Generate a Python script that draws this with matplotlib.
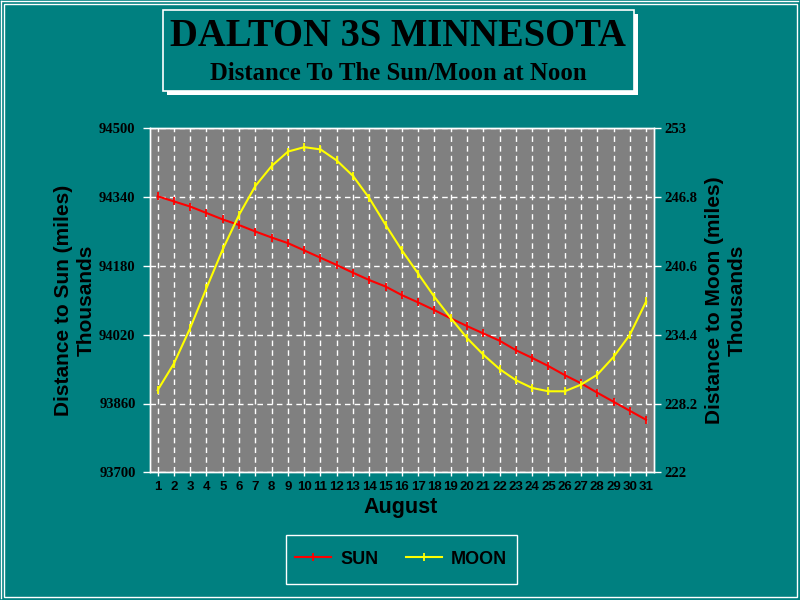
import numpy as np
import matplotlib
matplotlib.use("Agg")
import matplotlib.pyplot as plt
from matplotlib.patches import Rectangle
from matplotlib.lines import Line2D

# data
days = list(range(1, 32))
sun = [94342, 94330, 94318, 94303, 94288, 94275, 94260, 94246, 94233, 94216,
       94199, 94182, 94164, 94147, 94132, 94112, 94095, 94077, 94058, 94040,
       94023, 94006, 93984, 93966, 93947, 93926, 93907, 93885, 93864, 93843, 93822]
moon = [229.4, 231.8, 235.0, 238.6, 242.1, 245.2, 247.8, 249.6, 250.9, 251.3,
        251.1, 250.1, 248.7, 246.7, 244.3, 242.0, 239.9, 237.8, 235.9, 234.1,
        232.6, 231.3, 230.3, 229.6, 229.3, 229.3, 229.9, 230.8, 232.4, 234.4, 237.4]
sun_ticks = [93700, 93860, 94020, 94180, 94340, 94500]
moon_ticks = [222, 228.2, 234.4, 240.6, 246.8, 253]
moon_labels = ["222", "228.2", "234.4", "240.6", "246.8", "253"]

TEAL = "#008080"
GRAY = "#808080"
W, H = 800, 600

fig = plt.figure(figsize=(8, 6), dpi=100, facecolor=TEAL)

def fx(px):
    return px / W

def fy(py):
    return 1 - py / H

# outer border
fig.add_artist(Rectangle((fx(3.5), fy(596.5)), fx(797 - 3.5), (596.5 - 3.5) / H,
                         transform=fig.transFigure, fill=False, ec="white", lw=1))
fig.add_artist(Line2D([fx(1), fx(1)], [fy(1), fy(598)], transform=fig.transFigure, color="white", lw=1))
fig.add_artist(Line2D([fx(1), fx(798)], [fy(1), fy(1)], transform=fig.transFigure, color="white", lw=1))

# title box with white shadow
bx0, bx1, by0, by1 = 162.5, 634, 10.5, 91
fig.add_artist(Rectangle((fx(bx0 + 4), fy(by1 + 3.5)), fx(bx1 - bx0), (by1 - by0) / H,
                         transform=fig.transFigure, fc="white", ec="white", lw=0, zorder=1))
fig.add_artist(Rectangle((fx(bx0), fy(by1)), fx(bx1 - bx0), (by1 - by0) / H,
                         transform=fig.transFigure, fc=TEAL, ec="white", lw=1.2, zorder=2))
fig.text(fx(398), fy(36), "DALTON 3S MINNESOTA", family="Liberation Serif", weight="bold",
         fontsize=27.8, ha="center", va="center", zorder=3)
fig.text(fx(398), fy(73), "Distance To The Sun/Moon at Noon", family="Liberation Serif",
         weight="bold", fontsize=17.8, ha="center", va="center", zorder=3)

# axes
ax = fig.add_axes([fx(149.5), fy(472.3), (654.3 - 149.5) / W, (472.3 - 128.3) / H])
ax.set_facecolor(GRAY)
ax.plot(days, sun, color="red", lw=1.5, marker="|", ms=6, mew=1.3)
ax.set_xlim(0.5, 31.5)
ax.set_ylim(93700, 94500)
ax.set_yticks(sun_ticks)
ax.set_yticklabels([str(v) for v in sun_ticks], family="Liberation Serif", weight="bold", fontsize=10.5)
ax.set_xticks(days)
ax.set_xticklabels([str(d) for d in days], family="Liberation Sans", weight="bold", fontsize=9.5)
ax.grid(True, color="white", ls=(0, (4, 3)), lw=1)
ax.set_axisbelow(True)
ax.tick_params(axis="y", colors="white", length=5, width=1, pad=5, labelcolor="black")
ax.tick_params(axis="x", colors="white", length=3, width=1, pad=3, labelcolor="black")
for s in ax.spines.values():
    s.set_color("white")
    s.set_linewidth(1)

ax2 = ax.twinx()
ax2.plot(days, moon, color="yellow", lw=1.5, marker="|", ms=6, mew=1.3)
ax2.set_ylim(222, 253)
ax2.set_yticks(moon_ticks)
ax2.set_yticklabels(moon_labels, family="Liberation Serif", weight="bold", fontsize=10.5)
ax2.tick_params(axis="y", colors="white", length=5, width=1, pad=2, labelcolor="black")
for s in ax2.spines.values():
    s.set_color("white")
    s.set_linewidth(1)

# axis titles
fig.text(fx(401), fy(507), "August", family="Liberation Sans", weight="bold",
         fontsize=15.5, ha="center", va="center")
fig.text(fx(74.5), fy(300), "Distance to Sun (miles)\nThousands", family="Liberation Sans",
         weight="bold", fontsize=15, rotation=90, ha="center", va="center",
         multialignment="center", linespacing=1.25)
fig.text(fx(725.5), fy(300), "Distance to Moon (miles)\nThousands", family="Liberation Sans",
         weight="bold", fontsize=15, rotation=90, ha="center", va="center",
         multialignment="center", linespacing=1.25)

# legend
fig.add_artist(Rectangle((fx(286), fy(583.5)), fx(516.5 - 286), (583.5 - 534.5) / H,
                         transform=fig.transFigure, fill=False, ec="white", lw=1))
handles = [Line2D([], [], color="red", lw=1.5, marker="|", ms=6, mew=1.3),
           Line2D([], [], color="yellow", lw=1.5, marker="|", ms=6, mew=1.3)]
fig.legend(handles, ["SUN", "MOON"], ncol=2, frameon=False, loc="center",
           bbox_to_anchor=(fx(401), fy(559)), prop={"family": "Liberation Sans", "weight": "bold", "size": 13},
           handlelength=2.0, handletextpad=0.5, columnspacing=1.5)

fig.savefig("out.png", dpi=100, facecolor=TEAL)
